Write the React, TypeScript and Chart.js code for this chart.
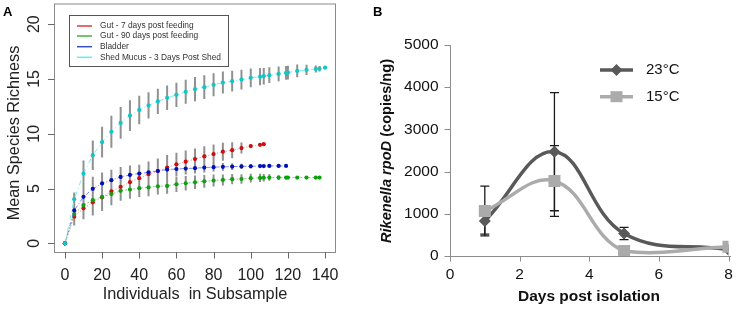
import React, { useEffect, useRef } from "react";
import { Chart, registerables } from "chart.js";

Chart.register(...registerables);

const FONT = "'Liberation Sans', Arial, Helvetica, sans-serif";

// ---------------- Panel A: rarefaction curves ----------------
const subsampleSizes = [0, 5, 10, 15, 20, 25, 30, 35, 40, 45, 50, 55, 60, 65, 70, 75, 80, 85, 90, 95, 100, 105, 107, 110, 115, 119, 120, 125, 130, 135, 137, 140];

const gut7Mean = [0, 2.43, 3.19, 3.74, 4.2, 4.73, 5.15, 5.58, 5.94, 6.3, 6.6, 6.91, 7.21, 7.45, 7.69, 7.93, 8.14, 8.36, 8.5, 8.69, 8.87, 8.99, 9.05];
const gut7Sd = [0, 0.8, 1.0, 1.2, 1.25, 1.25, 1.2, 1.2, 1.18, 1.16, 1.15, 1.14, 1.06, 1.02, 0.97, 0.93, 0.88, 0.82, 0.73, 0.5, 0.18, 0.05, 0];

const gut90Mean = [0, 2.67, 3.49, 3.94, 4.24, 4.49, 4.79, 4.91, 5.03, 5.1, 5.2, 5.24, 5.39, 5.48, 5.57, 5.66, 5.73, 5.78, 5.85, 5.87, 5.94, 5.97, 5.98, 6.0, 6.0, 6.0, 6.0, 6.0, 6.0, 6.0, 6.0];
const gut90Sd = [0, 0.9, 1.0, 1.0, 1.0, 0.95, 0.9, 0.85, 0.8, 0.8, 0.75, 0.72, 0.7, 0.66, 0.62, 0.58, 0.55, 0.5, 0.47, 0.44, 0.4, 0.37, 0.35, 0.3, 0.22, 0.15, 0.14, 0.08, 0.04, 0.01, 0];

const bladderMean = [0, 3.0, 4.24, 4.97, 5.46, 5.76, 6.06, 6.24, 6.36, 6.48, 6.6, 6.73, 6.78, 6.82, 6.86, 6.91, 6.95, 6.98, 7.0, 7.02, 7.03, 7.05, 7.05, 7.06, 7.06, 7.06];
const bladderSd = [0, 0.9, 1.1, 1.1, 1.0, 0.95, 0.9, 0.85, 0.8, 0.75, 0.7, 0.65, 0.6, 0.55, 0.5, 0.45, 0.4, 0.35, 0.3, 0.25, 0.2, 0.12, 0.1, 0.08, 0.03, 0];

const mucusMean = [0, 4.03, 6.36, 8.04, 9.23, 10.18, 10.99, 11.65, 12.17, 12.58, 12.95, 13.28, 13.55, 13.83, 14.07, 14.25, 14.46, 14.67, 14.8, 14.94, 15.1, 15.21, 15.25, 15.34, 15.46, 15.55, 15.58, 15.73, 15.82, 15.91, 15.94, 16.03];
const mucusSd = [0, 0.6, 1.2, 1.35, 1.4, 1.45, 1.45, 1.4, 1.3, 1.2, 1.15, 1.12, 1.1, 1.1, 1.1, 1.08, 1.05, 1.0, 0.95, 0.9, 0.85, 0.78, 0.76, 0.72, 0.68, 0.63, 0.62, 0.58, 0.47, 0.32, 0.25, 0];

const legendLabelsA = ["Gut - 7 days post feeding", "Gut - 90 days post feeding", "Bladder", "Shed Mucus - 3 Days Post Shed"];
const legendColorsA = ["#e03a3a", "#3fb43f", "#3a4fc0", "#5cf0f0"];
const ticksAX = [0, 20, 40, 60, 80, 100, 120, 140];
const ticksAY = [0, 5, 10, 15, 20];

// draw order: first listed = on top in Chart.js
const seriesA = [
  { label: legendLabelsA[3], mean: mucusMean, sd: mucusSd, point: "#12c6c6", line: "rgba(110,235,235,0.9)", dash: [5, 3, 1, 3] },
  { label: legendLabelsA[2], mean: bladderMean, sd: bladderSd, point: "#0010b4", line: "rgba(90,100,220,0.75)", dash: [4, 2, 1, 2] },
  { label: legendLabelsA[1], mean: gut90Mean, sd: gut90Sd, point: "#0ea00e", line: "rgba(90,190,90,0.75)", dash: [2, 2] },
  { label: legendLabelsA[0], mean: gut7Mean, sd: gut7Sd, point: "#cc1010", line: "rgba(225,90,90,0.75)", dash: [1, 2] },
];

// ---------------- Panel B: Rikenella rpoD ----------------
const daysPostIsolation = [1, 3, 5, 8];
const temp23Values = [829, 2472, 535, 150];
const temp23Err = [310, 1400, 145, 0];
const temp15Values = [1066, 1777, 120, 220];
const temp15Err = [590, 840, 0, 0];
const ticksBX = [0, 2, 4, 6, 8];
const ticksBY = [0, 1000, 2000, 3000, 4000, 5000];
const legendLabelsB = ["23°C", "15°C"];
const DARK = "#595959";
const LIGHT = "#ababab";

const errorBarsA = {
  id: "errorBarsA",
  beforeDatasetsDraw(chart: any) {
    const { ctx, scales } = chart;
    const x = scales.x, y = scales.y;
    ctx.save();
    ctx.strokeStyle = "rgba(125,125,125,0.85)";
    ctx.lineWidth = 2;
    ctx.beginPath();
    [...seriesA].reverse().forEach((s) => {
      s.mean.forEach((m: number, i: number) => {
        const sd = s.sd[i];
        if (!sd) return;
        const px = x.getPixelForValue(subsampleSizes[i]);
        ctx.moveTo(px, y.getPixelForValue(m - sd));
        ctx.lineTo(px, y.getPixelForValue(m + sd));
      });
    });
    ctx.stroke();
    ctx.restore();
  },
};

const axesA = {
  id: "axesA",
  afterDraw(chart: any) {
    const { ctx, chartArea: ca, scales } = chart;
    const x = scales.x, y = scales.y;
    ctx.save();
    ctx.strokeStyle = "#8a8a8a";
    ctx.lineWidth = 1;
    ctx.strokeRect(ca.left, ca.top, ca.right - ca.left, ca.bottom - ca.top);
    ctx.strokeStyle = "#666";
    ctx.beginPath();
    ticksAY.forEach((v) => {
      const py = Math.round(y.getPixelForValue(v)) + 0.5;
      ctx.moveTo(ca.left - 6.5, py);
      ctx.lineTo(ca.left, py);
    });
    ticksAX.forEach((v) => {
      const px = Math.round(x.getPixelForValue(v)) + 0.5;
      ctx.moveTo(px, ca.bottom);
      ctx.lineTo(px, ca.bottom + 6);
    });
    ctx.stroke();

    ctx.fillStyle = "#222";
    ctx.textAlign = "center";
    ctx.textBaseline = "middle";
    ctx.font = `16px ${FONT}`;
    ticksAX.forEach((v) => ctx.fillText(String(v), x.getPixelForValue(v), 276));
    ticksAY.forEach((v) => {
      ctx.save();
      ctx.translate(35, y.getPixelForValue(v));
      ctx.rotate(-Math.PI / 2);
      ctx.fillText(String(v), 0, 0);
      ctx.restore();
    });
    ctx.font = `16.3px ${FONT}`;
    ctx.fillText("Individuals  in Subsample", (ca.left + ca.right) / 2, 295);
    ctx.save();
    ctx.translate(15, 133);
    ctx.rotate(-Math.PI / 2);
    ctx.fillText("Mean Species Richness", 0, 0);
    ctx.restore();

    // legend
    ctx.strokeStyle = "#555";
    ctx.lineWidth = 1;
    ctx.strokeRect(69.5, 15.5, 159, 51);
    const rows = [26, 36, 46.7, 57.3];
    ctx.font = `8.4px ${FONT}`;
    ctx.textAlign = "left";
    legendLabelsA.forEach((lab, i) => {
      ctx.strokeStyle = legendColorsA[i];
      ctx.lineWidth = 1.5;
      ctx.beginPath();
      ctx.moveTo(77, rows[i]);
      ctx.lineTo(92, rows[i]);
      ctx.stroke();
      ctx.fillStyle = "#333";
      ctx.fillText(lab, 100, rows[i]);
    });

    ctx.fillStyle = "#000";
    ctx.font = `bold 13px ${FONT}`;
    ctx.textAlign = "left";
    ctx.textBaseline = "alphabetic";
    ctx.fillText("A", 3, 15.5);
    ctx.restore();
  },
};

const errorBarsB = {
  id: "errorBarsB",
  beforeDatasetsDraw(chart: any) {
    const { ctx, scales } = chart;
    const x = scales.x, y = scales.y;
    ctx.save();
    ctx.strokeStyle = "#1a1a1a";
    ctx.lineWidth = 1.3;
    const draw = (vals: number[], errs: number[]) => {
      vals.forEach((v, i) => {
        const e = errs[i];
        if (!e) return;
        const px = x.getPixelForValue(daysPostIsolation[i]);
        const top = y.getPixelForValue(v + e);
        const bot = y.getPixelForValue(v - e);
        ctx.beginPath();
        ctx.moveTo(px, top);
        ctx.lineTo(px, bot);
        ctx.moveTo(px - 4.5, top);
        ctx.lineTo(px + 4.5, top);
        ctx.moveTo(px - 4.5, bot);
        ctx.lineTo(px + 4.5, bot);
        ctx.stroke();
      });
    };
    draw(temp23Values, temp23Err);
    draw(temp15Values, temp15Err);
    ctx.restore();
  },
};

const axesB = {
  id: "axesB",
  afterDraw(chart: any) {
    const { ctx, chartArea: ca, scales } = chart;
    const x = scales.x, y = scales.y;
    ctx.save();
    ctx.strokeStyle = "#8c8c8c";
    ctx.lineWidth = 1;
    ctx.beginPath();
    const lx = Math.round(ca.left) + 0.5;
    const by = Math.round(ca.bottom) + 0.5;
    ctx.moveTo(lx, y.getPixelForValue(5000));
    ctx.lineTo(lx, by);
    ctx.lineTo(ca.right + 2.5, by);
    ticksBY.forEach((v) => {
      const py = Math.round(y.getPixelForValue(v)) + 0.5;
      ctx.moveTo(lx - 6, py);
      ctx.lineTo(lx, py);
    });
    ticksBX.forEach((v) => {
      const px = Math.round(x.getPixelForValue(v)) + 0.5;
      ctx.moveTo(px, by);
      ctx.lineTo(px, by + 5);
    });
    ctx.stroke();

    ctx.fillStyle = "#111";
    ctx.font = `15.5px ${FONT}`;
    ctx.textBaseline = "middle";
    ctx.textAlign = "right";
    ticksBY.forEach((v) => ctx.fillText(String(v), 68.5, y.getPixelForValue(v)));
    ctx.textAlign = "center";
    ticksBX.forEach((v) => ctx.fillText(String(v), x.getPixelForValue(v), 275));

    ctx.font = `bold 15.5px ${FONT}`;
    ctx.fillText("Days post isolation", 219, 297);

    // y title with italic gene name
    ctx.save();
    ctx.translate(17, 151);
    ctx.rotate(-Math.PI / 2);
    const f1 = `italic bold 14.6px ${FONT}`;
    const f2 = `bold 14.6px ${FONT}`;
    const t1 = "Rikenella rpoD";
    const t2 = " (copies/ng)";
    ctx.font = f1;
    const w1 = ctx.measureText(t1).width;
    ctx.font = f2;
    const w2 = ctx.measureText(t2).width;
    const sx = -(w1 + w2) / 2;
    ctx.textAlign = "left";
    ctx.font = f1;
    ctx.fillText(t1, sx, 0);
    ctx.font = f2;
    ctx.fillText(t2, sx + w1, 0);
    ctx.restore();

    // legend
    const rows = [70, 96.7];
    const cols = [DARK, LIGHT];
    rows.forEach((ry, i) => {
      ctx.strokeStyle = cols[i];
      ctx.lineWidth = 3.5;
      ctx.beginPath();
      ctx.moveTo(230, ry);
      ctx.lineTo(263, ry);
      ctx.stroke();
      ctx.fillStyle = cols[i];
      ctx.beginPath();
      if (i === 0) {
        ctx.moveTo(246.5 - 6, ry);
        ctx.lineTo(246.5, ry - 6);
        ctx.lineTo(246.5 + 6, ry);
        ctx.lineTo(246.5, ry + 6);
        ctx.closePath();
      } else {
        ctx.rect(246.5 - 6, ry - 5.5, 12, 11);
      }
      ctx.fill();
      ctx.fillStyle = "#111";
      ctx.font = `15px ${FONT}`;
      ctx.textAlign = "left";
      ctx.fillText(legendLabelsB[i], 276, ry);
    });

    ctx.fillStyle = "#000";
    ctx.font = `bold 13px ${FONT}`;
    ctx.textBaseline = "alphabetic";
    ctx.fillText("B", 3, 15.5);
    ctx.restore();
  },
};

function PanelA() {
  const ref = useRef<HTMLCanvasElement>(null);
  useEffect(() => {
    if (!ref.current) return;
    const chart = new Chart(ref.current, {
      type: "line",
      data: {
        datasets: seriesA.map((s) => ({
          label: s.label,
          data: s.mean.map((v, i) => ({ x: subsampleSizes[i], y: v })),
          borderColor: s.line,
          borderWidth: 1,
          borderDash: s.dash,
          pointRadius: 2.1,
          pointBackgroundColor: s.point,
          pointBorderColor: s.point,
          pointBorderWidth: 0,
          tension: 0,
          fill: false,
        })),
      },
      options: {
        responsive: false,
        animation: false,
        events: [],
        layout: { padding: { left: 54.5, right: 34.5, top: 3.5, bottom: 58.5 } },
        scales: {
          x: { type: "linear", min: -5.6, max: 145.6, display: false },
          y: { type: "linear", min: -0.84, max: 21.84, display: false },
        },
        plugins: { legend: { display: false }, tooltip: { enabled: false } },
      },
      plugins: [errorBarsA, axesA],
    } as any);
    return () => chart.destroy();
  }, []);
  return <canvas ref={ref} width={370} height={311} style={{ width: 370, height: 311, display: "block" }} />;
}

function PanelB() {
  const ref = useRef<HTMLCanvasElement>(null);
  useEffect(() => {
    if (!ref.current) return;
    const chart = new Chart(ref.current, {
      type: "line",
      data: {
        datasets: [
          {
            label: legendLabelsB[1],
            data: temp15Values.map((v, i) => ({ x: daysPostIsolation[i], y: v })),
            borderColor: LIGHT,
            backgroundColor: LIGHT,
            borderWidth: 3.5,
            pointStyle: "rect",
            pointRadius: 8.5,
            pointBackgroundColor: LIGHT,
            pointBorderWidth: 0,
            tension: 0.4,
            fill: false,
          },
          {
            label: legendLabelsB[0],
            data: temp23Values.map((v, i) => ({ x: daysPostIsolation[i], y: v })),
            borderColor: DARK,
            backgroundColor: DARK,
            borderWidth: 3.5,
            pointStyle: "rectRot",
            pointRadius: 6,
            pointBackgroundColor: DARK,
            pointBorderWidth: 0,
            tension: 0.4,
            fill: false,
          },
        ],
      },
      options: {
        responsive: false,
        animation: false,
        events: [],
        layout: { padding: { left: 80, right: 8.5, top: 45, bottom: 55 } },
        scales: {
          x: { type: "linear", min: 0, max: 8, display: false },
          y: { type: "linear", min: 0, max: 5000, display: false },
        },
        plugins: { legend: { display: false }, tooltip: { enabled: false } },
      },
      plugins: [errorBarsB, axesB],
    } as any);
    return () => chart.destroy();
  }, []);
  return <canvas ref={ref} width={367} height={311} style={{ width: 367, height: 311, display: "block" }} />;
}

export default function App() {
  return (
    <div style={{ position: "fixed", left: 0, top: 0, width: 737, height: 311, display: "flex", background: "#fff" }}>
      <PanelA />
      <PanelB />
    </div>
  );
}
